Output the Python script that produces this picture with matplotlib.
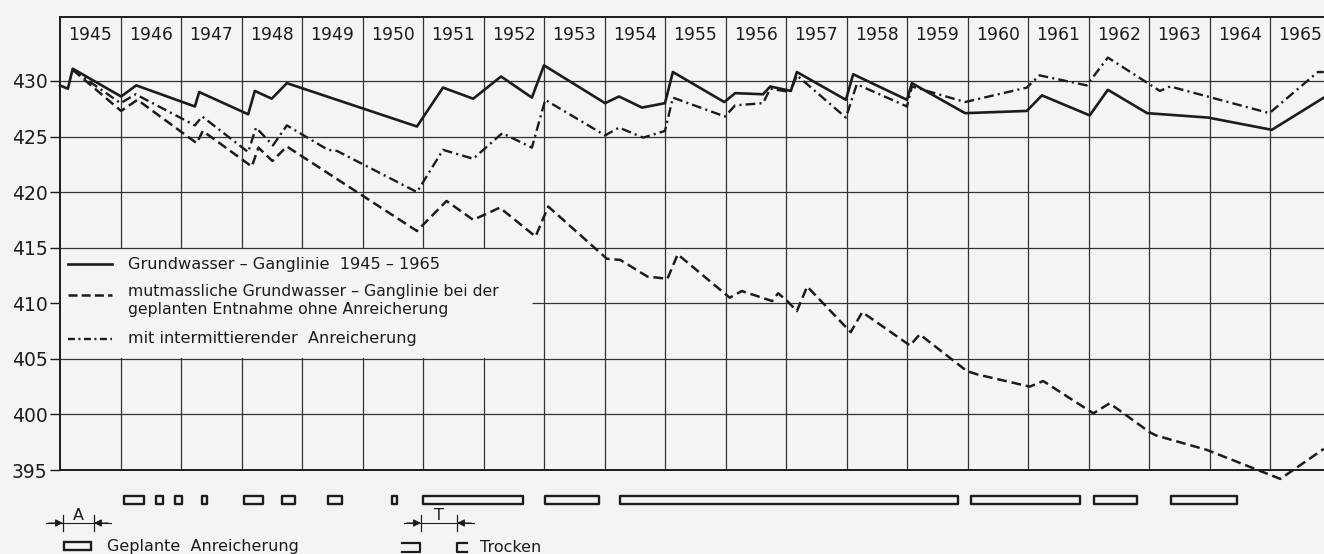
import matplotlib.pyplot as plt
from matplotlib.patches import Rectangle
from matplotlib.lines import Line2D

plt.rcParams['font.family'] = ['DejaVu Sans']
plt.rcParams['lines.scale_dashes'] = False

# Grundwasser-Ganglinie 1945-1965 (measured)
solid_x = [1945.0, 1945.13, 1945.21, 1946.01, 1946.26, 1947.23, 1947.30, 1948.11, 1948.22, 1948.50,
           1948.75, 1950.90, 1951.33, 1951.83, 1952.29, 1952.80, 1953.00, 1954.01, 1954.24, 1954.62,
           1955.00, 1955.13, 1955.98, 1956.16, 1956.62, 1956.74, 1957.08, 1957.18, 1957.99, 1958.11,
           1959.00, 1959.08, 1959.96, 1960.98, 1961.23, 1962.02, 1962.32, 1962.97, 1963.98, 1965.03,
           1965.89]
solid_y = [429.6, 429.3, 431.1, 428.6, 429.6, 427.7, 429.0, 427.0, 429.1, 428.4,
           429.8, 425.9, 429.4, 428.4, 430.4, 428.5, 431.4, 428.0, 428.6, 427.6,
           428.0, 430.8, 428.1, 428.9, 428.8, 429.5, 429.1, 430.8, 428.3, 430.6,
           428.3, 429.8, 427.1, 427.3, 428.7, 426.9, 429.2, 427.1, 426.7, 425.6,
           428.5]

# mutmassliche Ganglinie ohne Anreicherung
ohne_x = [1945.21, 1946.01, 1946.28, 1947.26, 1947.36, 1948.17, 1948.28, 1948.51, 1948.75, 1950.90,
          1951.39, 1951.83, 1952.27, 1952.86, 1953.07, 1954.04, 1954.26, 1954.71, 1955.04, 1955.21,
          1956.07, 1956.27, 1956.77, 1956.87, 1957.02, 1957.18, 1957.35, 1958.07, 1958.26, 1959.05,
          1959.21, 1959.99, 1960.16, 1961.03, 1961.25, 1962.08, 1962.35, 1963.01, 1963.12, 1963.96,
          1965.17, 1965.89]
ohne_y = [431.0, 427.3, 428.3, 424.4, 425.5, 422.3, 424.0, 422.8, 424.1, 416.5,
          419.2, 417.5, 418.6, 416.0, 418.7, 414.0, 413.9, 412.4, 412.2, 414.4,
          410.5, 411.1, 410.2, 410.9, 410.2, 409.3, 411.5, 407.4, 409.2, 406.2,
          407.2, 403.9, 403.6, 402.5, 403.0, 400.1, 401.0, 398.4, 398.1, 396.8,
          394.2, 396.9]

# mit intermittierender Anreicherung
mit_x = [1945.21, 1946.00, 1946.25, 1947.23, 1947.35, 1948.11, 1948.24, 1948.52, 1948.75, 1949.43,
         1949.58, 1950.90, 1951.33, 1951.83, 1952.31, 1952.80, 1953.02, 1954.01, 1954.24, 1954.64,
         1955.00, 1955.13, 1955.99, 1956.16, 1956.62, 1956.74, 1957.07, 1957.18, 1957.99, 1958.17,
         1959.00, 1959.08, 1959.96, 1960.98, 1961.19, 1961.97, 1962.32, 1963.18, 1963.35, 1964.99,
         1965.79, 1965.89]
mit_y = [431.0, 428.0, 428.8, 426.0, 426.8, 423.6, 425.8, 424.2, 426.0, 423.8,
         423.7, 420.0, 423.8, 423.0, 425.3, 424.0, 428.3, 425.1, 425.8, 424.9,
         425.5, 428.5, 426.8, 427.8, 428.0, 429.3, 429.0, 430.5, 426.7, 429.7,
         427.7, 429.5, 428.1, 429.4, 430.5, 429.6, 432.1, 429.1, 429.5, 427.1,
         430.8, 430.8]

# Geplante Anreicherung (start, end)
anr_start = [1946.06, 1946.59, 1946.90, 1947.35, 1948.04, 1948.67, 1949.43, 1950.49, 1951.00,
             1953.02, 1954.26, 1960.06, 1962.09, 1963.36]
anr_end = [1946.39, 1946.70, 1947.02, 1947.43, 1948.36, 1948.88, 1949.66, 1950.57, 1952.65,
           1953.91, 1959.84, 1961.86, 1962.80, 1964.45]

years = list(range(1945, 1966))
y_ticks = [395, 400, 405, 410, 415, 420, 425, 430]

bg = '#f4f4f2'
ink = '#1c1c1c'
grid = '#333333'

fig = plt.figure(figsize=(13.24, 5.54), dpi=100, facecolor=bg)
ax = fig.add_axes([60 / 1324, 84 / 554, 1 - 60 / 1324, (470 - 17) / 554])
ax.set_facecolor(bg)
x_right = 1945 + 1264 / 60.5
ax.set_xlim(1945, x_right)
ax.set_ylim(395, 435.75)

# grid
ax.vlines(years[1:], 395, 435.75, color=grid, lw=0.9, zorder=1)
for v in y_ticks[1:]:
    if v == 410:
        ax.hlines(v, 1952.8, x_right, color=grid, lw=0.9, zorder=3)
    else:
        ax.hlines(v, 1945, x_right, color=grid, lw=0.9, zorder=3)
# legend box hides the grid
ax.add_patch(Rectangle((1945, 405.1), 7.8, 9.8, facecolor=bg, edgecolor='none', zorder=2))

ax.spines['right'].set_visible(False)
for s in ['left', 'top', 'bottom']:
    ax.spines[s].set_color(ink)
    ax.spines[s].set_linewidth(1.4)
ax.set_xticks([])
ax.set_yticks(y_ticks)
ax.tick_params(axis='y', length=7, width=1.0, color=ink, pad=2, labelsize=13.5, labelcolor=ink)

for yr in years:
    ax.text(yr + 0.5, 434.1, str(yr), ha='center', va='center', fontsize=12.3, color=ink, zorder=4)

# curves
ax.plot(solid_x, solid_y, color=ink, lw=1.9, zorder=5, clip_on=False)
ax.plot(ohne_x, ohne_y, color=ink, lw=1.8, dashes=(7, 3.5), zorder=5, clip_on=False)
ax.plot(mit_x, mit_y, color=ink, lw=1.7, dashes=(7, 3, 1.5, 3), zorder=5, clip_on=False)

# legend inside the plot
lx = [1945.13, 1945.86]
ax.plot(lx, [413.5, 413.5], color=ink, lw=1.9, zorder=5)
ax.plot(lx, [410.7, 410.7], color=ink, lw=1.8, dashes=(6.5, 3), zorder=5)
ax.plot(lx, [406.8, 406.8], color=ink, lw=1.7, dashes=(5, 2.5, 1.5, 2.5), zorder=5)
ax.text(1946.12, 413.5, 'Grundwasser – Ganglinie  1945 – 1965', va='center', fontsize=11.6, color=ink, zorder=5)
ax.text(1946.12, 410.25, 'mutmassliche Grundwasser – Ganglinie bei der\ngeplanten Entnahme ohne Anreicherung',
        va='center', fontsize=11.3, color=ink, linespacing=1.22, zorder=5)
ax.text(1946.12, 406.8, 'mit intermittierender  Anreicherung', va='center', fontsize=11.6, color=ink, zorder=5)

# planned recharge bars below the axis
widths = [e - s for s, e in zip(anr_start, anr_end)]
ax.broken_barh(list(zip(anr_start, widths)), (391.95, 0.7), facecolors=bg, edgecolors=ink,
               linewidth=1.7, clip_on=False, zorder=5)


# bottom key, drawn in figure pixels (origin top-left)
def fp(x, y):
    return x / 1324, 1 - y / 554


def seg(xs, ys, lw=1.0):
    pts = [fp(x, y) for x, y in zip(xs, ys)]
    fig.add_artist(Line2D([p[0] for p in pts], [p[1] for p in pts], transform=fig.transFigure,
                          color=ink, lw=lw))


def dim(x0, x1, label, y=523):
    seg([x0 - 17, x1 + 17], [y, y], lw=0.8)
    seg([x0, x0], [y - 8, y + 8], lw=0.9)
    seg([x1, x1], [y - 8, y + 8], lw=0.9)
    for a, b in [(x0 - 14, x0), (x1 + 14, x1)]:
        ax.annotate('', xy=fp(b, y), xytext=fp(a, y), xycoords='figure fraction',
                    arrowprops=dict(arrowstyle='-|>', color=ink, lw=0.8, mutation_scale=11,
                                    shrinkA=0, shrinkB=0))
    fig.text(*fp((x0 + x1) / 2, y - 7), label, ha='center', va='center', fontsize=11.5, color=ink)


dim(63, 94, 'A')
dim(421, 457, 'T')

fig.add_artist(Rectangle(fp(64, 550), 27 / 1324, 8 / 554, transform=fig.transFigure,
                         facecolor=bg, edgecolor=ink, lw=1.7))
fig.text(*fp(107, 547), 'Geplante  Anreicherung', va='center', fontsize=11.5, color=ink)
seg([402, 420, 420, 402], [543, 543, 552, 552], lw=1.6)
seg([467, 457, 457, 467], [543, 543, 552, 552], lw=1.6)
fig.text(*fp(480, 547), 'Trocken', va='center', fontsize=11.5, color=ink)

fig.savefig('out.png', dpi=100, facecolor=bg)
